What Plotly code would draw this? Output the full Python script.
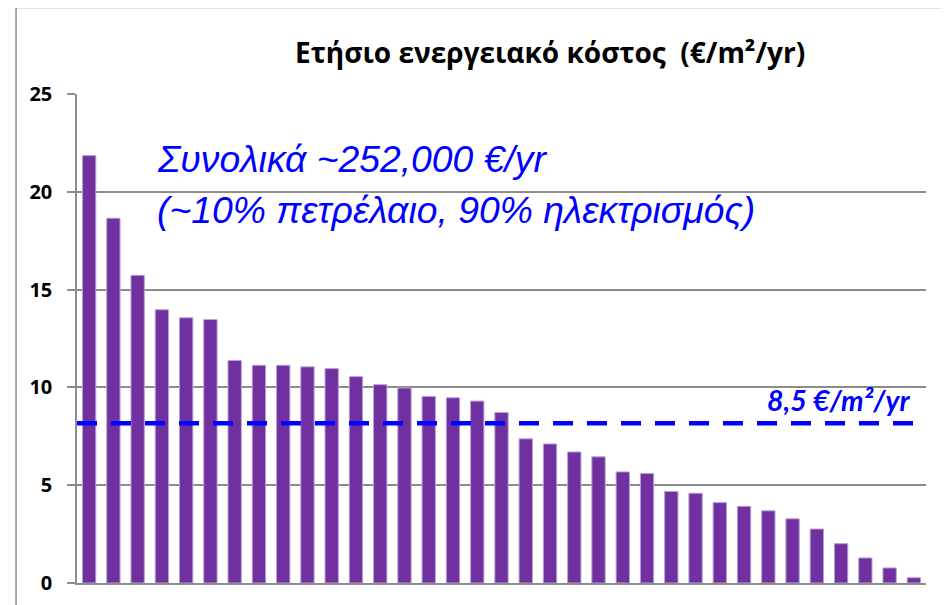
import plotly.graph_objects as go

categories = [str(i) for i in range(1, 36)]
cost_values = [21.85, 18.65, 15.73, 13.97, 13.56, 13.47, 11.38, 11.13, 11.13, 11.05,
               10.96, 10.55, 10.14, 9.97, 9.54, 9.47, 9.30, 8.72, 7.37, 7.11,
               6.70, 6.45, 5.68, 5.60, 4.68, 4.59, 4.11, 3.92, 3.69, 3.28,
               2.76, 2.01, 1.28, 0.77, 0.27]
average_line = 8.17
y_ticks = [0, 5, 10, 15, 20, 25]

title_text = "Ετήσιο ενεργειακό κόστος&nbsp; (€/m²/yr)"
note_line1 = "Συνολικά ~252,000 €/yr"
note_line2 = "(~10% πετρέλαιο, 90% ηλεκτρισμός)"
avg_label = "8,5 €/m²/yr"

fig = go.Figure()
fig.add_trace(go.Bar(
    x=categories, y=cost_values,
    marker=dict(color="#7030A0", line=dict(color="#B9A2D3", width=1)),
))

fig.add_shape(type="line", xref="paper", yref="y", x0=0, x1=0.989,
              y0=average_line, y1=average_line,
              line=dict(color="#0000FF", width=4.5, dash="20px,14px"))

# outer frame
fig.add_shape(type="rect", xref="paper", yref="paper",
              x0=-0.0718, x1=1.1, y0=-0.2, y1=1.177,
              line=dict(color="#8C8C8C", width=1.5), layer="below")

fig.add_annotation(text="<b>" + title_text + "</b>", xref="paper", yref="paper",
                   x=0.557, y=1.0, yshift=42, xanchor="center", yanchor="middle",
                   showarrow=False, font=dict(family="Open Sans", size=28, color="#000000"))
fig.add_annotation(text="<i>" + note_line1 + "</i>", xref="paper", yref="paper",
                   x=0.092, y=0.868, xanchor="left", yanchor="middle",
                   showarrow=False, font=dict(family="Liberation Sans", size=37.3, color="#0000FF"))
fig.add_annotation(text="<i>" + note_line2 + "</i>", xref="paper", yref="paper",
                   x=0.092, y=0.763, xanchor="left", yanchor="middle",
                   showarrow=False, font=dict(family="Liberation Sans", size=37.3, color="#0000FF"))
fig.add_annotation(text="<b><i>" + avg_label + "</i></b>", xref="paper", yref="y",
                   x=0.983, y=average_line, yshift=4, xanchor="right", yanchor="bottom",
                   showarrow=False, font=dict(family="Lato", size=28.5, color="#0000FF"))

fig.update_layout(
    width=949, height=605,
    margin=dict(l=69, r=31, t=86, b=30),
    paper_bgcolor="white", plot_bgcolor="white",
    bargap=0.45, showlegend=False,
    xaxis=dict(showticklabels=False, showgrid=False, showline=True,
               linecolor="#8C8C8C", linewidth=1.5, ticks=""),
    yaxis=dict(range=[0, 25], tickvals=y_ticks, showgrid=True,
               gridcolor="#8C8C8C", gridwidth=1.5, showline=True,
               linecolor="#8C8C8C", linewidth=1.5, ticks="outside",
               ticklen=8, tickcolor="#8C8C8C", tickwidth=1.5,
               ticklabelstandoff=11,
               tickfont=dict(family="Open Sans", size=20, color="#000000", weight="bold"),
               zeroline=False),
)

fig.write_html("out.html")
